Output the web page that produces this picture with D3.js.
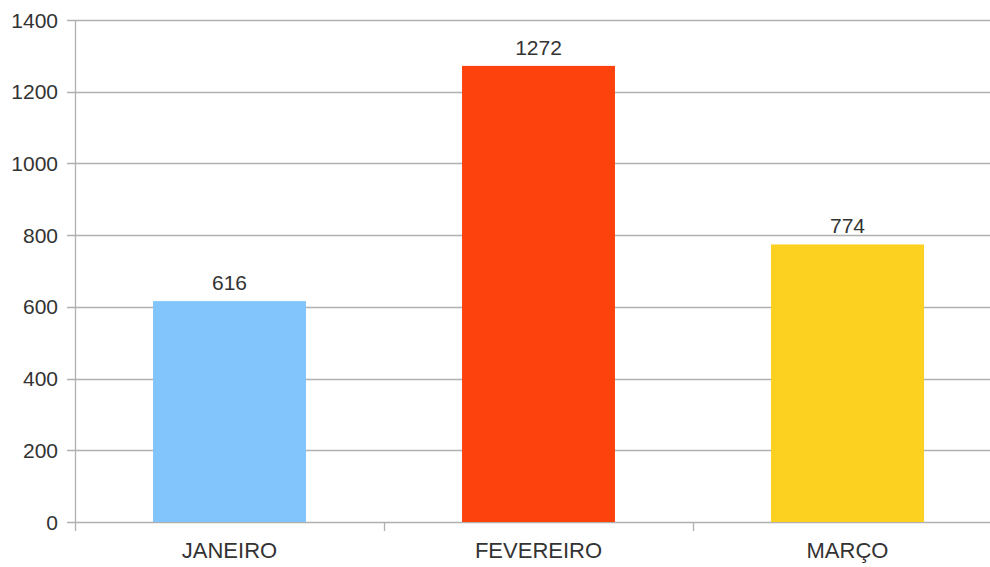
<!DOCTYPE html>
<html>
<head>
<meta charset="utf-8">
<script src="https://cdn.jsdelivr.net/npm/d3@7"></script>
<style>
  html, body { margin: 0; padding: 0; background: #fff; }
  svg { display: block; font-family: "Liberation Sans", Arial, sans-serif; }
</style>
</head>
<body>
<svg id="chart" width="990" height="567"></svg>
<script>
// Monthly totals
const categories = ["JANEIRO", "FEVEREIRO", "MARÇO"];
const values = [616, 1272, 774];
const colors = ["#81c5fc", "#fe420e", "#fdd120"];
const yTicks = [0, 200, 400, 600, 800, 1000, 1200, 1400];

const svg = d3.select("#chart");
const margin = { left: 75, top: 20, right: -12, bottom: 45 };
const width = 990, height = 567;

const x = d3.scaleBand()
  .domain(categories)
  .range([margin.left, width - margin.right])
  .paddingInner(0.505)
  .paddingOuter(0.2525);

const xBands = d3.scaleBand()
  .domain(categories)
  .range([margin.left, width - margin.right]);

const y = d3.scaleLinear()
  .domain([0, 1400])
  .range([height - margin.bottom, margin.top]);

const gridColor = "#b0b0b0";
const textColor = "#333";

// Horizontal gridlines with short outward ticks
svg.append("g")
  .selectAll("line")
  .data(yTicks)
  .join("line")
  .attr("x1", margin.left - 8)
  .attr("x2", width)
  .attr("y1", d => Math.round(y(d)) + 0.5)
  .attr("y2", d => Math.round(y(d)) + 0.5)
  .attr("stroke", gridColor)
  .attr("stroke-width", 1.3);

// Y axis line
svg.append("line")
  .attr("x1", margin.left + 0.5).attr("x2", margin.left + 0.5)
  .attr("y1", y(1400)).attr("y2", y(0) + 9)
  .attr("stroke", gridColor).attr("stroke-width", 1.3);

// Category separators below the baseline
svg.append("g")
  .selectAll("line")
  .data(categories.slice(1))
  .join("line")
  .attr("x1", d => Math.round(xBands(d)) + 0.5)
  .attr("x2", d => Math.round(xBands(d)) + 0.5)
  .attr("y1", y(0))
  .attr("y2", y(0) + 9)
  .attr("stroke", gridColor).attr("stroke-width", 1.3);

// Y tick labels
svg.append("g")
  .selectAll("text")
  .data(yTicks)
  .join("text")
  .attr("x", margin.left - 17)
  .attr("y", d => y(d))
  .attr("dy", "0.36em")
  .attr("text-anchor", "end")
  .attr("font-size", 21)
  .attr("fill", textColor)
  .text(d => d);

// Bars
svg.append("g")
  .selectAll("rect")
  .data(values)
  .join("rect")
  .attr("x", (d, i) => x(categories[i]))
  .attr("y", d => y(d))
  .attr("width", x.bandwidth())
  .attr("height", d => y(0) - y(d))
  .attr("fill", (d, i) => colors[i]);

// Value labels
svg.append("g")
  .selectAll("text")
  .data(values)
  .join("text")
  .attr("x", (d, i) => x(categories[i]) + x.bandwidth() / 2)
  .attr("y", d => y(d) - 11)
  .attr("text-anchor", "middle")
  .attr("font-size", 21)
  .attr("fill", textColor)
  .text(d => d);

// Category labels
svg.append("g")
  .selectAll("text")
  .data(categories)
  .join("text")
  .attr("x", d => xBands(d) + xBands.bandwidth() / 2)
  .attr("y", y(0) + 36)
  .attr("text-anchor", "middle")
  .attr("font-size", 22)
  .attr("fill", textColor)
  .text(d => d);
</script>
</body>
</html>
